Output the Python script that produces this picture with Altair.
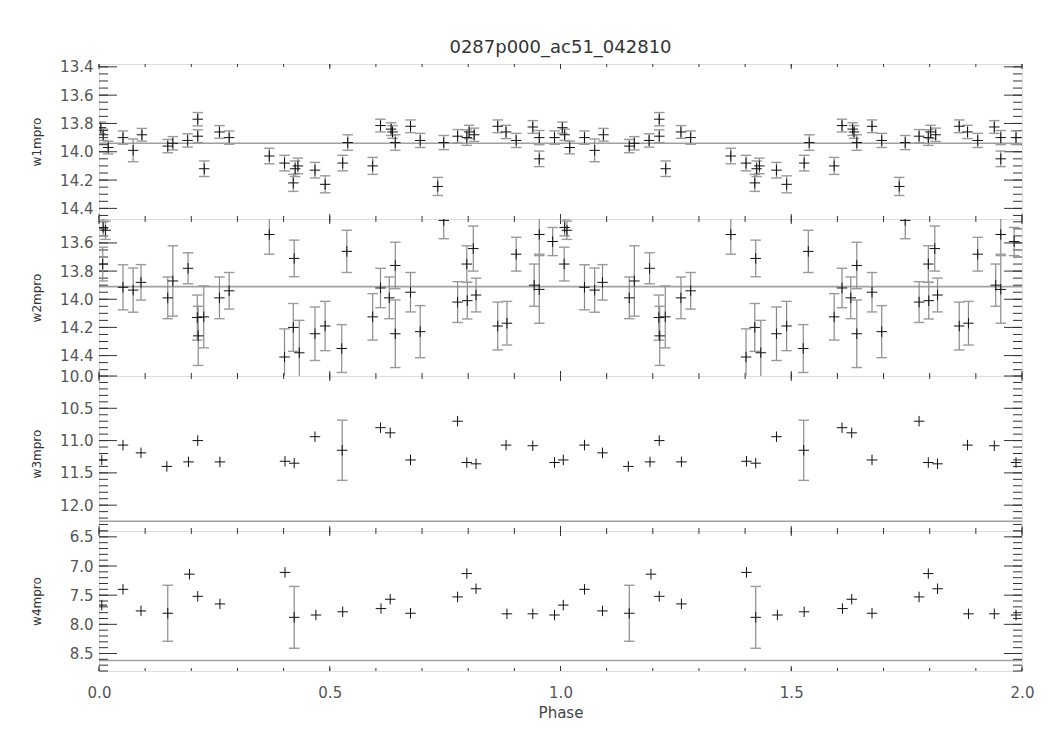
import altair as alt
import pandas as pd
import numpy as np

TITLE = "0287p000_ac51_042810"

# ---------------- data (phase within one cycle; drawn twice: 0-1 and 1-2) ----------------
w1_phase = [0.004, 0.009, 0.020, 0.052, 0.074, 0.093, 0.149, 0.160, 0.192, 0.214, 0.214, 0.228,
            0.261, 0.282, 0.369, 0.402, 0.421, 0.425, 0.431, 0.468, 0.490, 0.528, 0.539, 0.593,
            0.610, 0.633, 0.636, 0.642, 0.675, 0.696, 0.734, 0.747, 0.777, 0.797, 0.802, 0.813,
            0.864, 0.882, 0.904, 0.940, 0.954, 0.954, 0.987]
w1_mag = [13.83, 13.88, 13.97, 13.90, 13.99, 13.88, 13.96, 13.94, 13.92, 13.77, 13.89, 14.12,
          13.86, 13.90, 14.03, 14.08, 14.22, 14.12, 14.10, 14.13, 14.23, 14.08, 13.935, 14.10,
          13.815, 13.84, 13.86, 13.935, 13.82, 13.92, 14.245, 13.935, 13.89, 13.90, 13.86, 13.88,
          13.82, 13.86, 13.92, 13.825, 13.90, 14.05, 13.90]
w1_err = [0.04, 0.04, 0.045, 0.047, 0.08, 0.045, 0.047, 0.047, 0.047, 0.047, 0.045, 0.055,
          0.045, 0.047, 0.055, 0.055, 0.06, 0.055, 0.055, 0.055, 0.06, 0.055, 0.055, 0.06,
          0.045, 0.045, 0.045, 0.055, 0.045, 0.05, 0.064, 0.05, 0.047, 0.055, 0.047, 0.047,
          0.045, 0.047, 0.05, 0.045, 0.05, 0.055, 0.047]

w2_phase = [0.008, 0.009, 0.014, 0.052, 0.074, 0.091, 0.149, 0.160, 0.193, 0.213, 0.215, 0.227,
            0.261, 0.282, 0.369, 0.402, 0.421, 0.423, 0.434, 0.468, 0.490, 0.526, 0.537, 0.593,
            0.610, 0.629, 0.642, 0.642, 0.675, 0.696, 0.747, 0.777, 0.797, 0.798, 0.811, 0.817,
            0.864, 0.884, 0.904, 0.943, 0.954, 0.954, 0.983]
w2_mag = [13.75, 13.49, 13.51, 13.915, 13.935, 13.88, 13.99, 13.87, 13.78, 14.13, 14.26, 14.125,
          13.99, 13.94, 13.54, 14.41, 14.20, 13.71, 14.38, 14.245, 14.19, 14.35, 13.66, 14.125,
          13.92, 13.99, 13.76, 14.245, 13.95, 14.23, 13.44, 14.02, 13.75, 14.01, 13.64, 13.97,
          14.19, 14.17, 13.68, 13.90, 13.54, 13.93, 13.59]
w2_err = [0.12, 0.06, 0.065, 0.16, 0.157, 0.126, 0.148, 0.25, 0.11, 0.16, 0.21, 0.22,
          0.148, 0.13, 0.14, 0.20, 0.17, 0.13, 0.23, 0.19, 0.175, 0.17, 0.15, 0.165,
          0.14, 0.148, 0.165, 0.24, 0.14, 0.185, 0.13, 0.145, 0.13, 0.13, 0.16, 0.12,
          0.17, 0.155, 0.12, 0.15, 0.14, 0.24, 0.10]

w3_phase = [0.006, 0.052, 0.091, 0.147, 0.194, 0.214, 0.262, 0.403, 0.423, 0.468, 0.527, 0.610,
            0.631, 0.675, 0.777, 0.797, 0.817, 0.882, 0.940, 0.987]
w3_mag = [11.30, 11.07, 11.19, 11.40, 11.33, 11.00, 11.33, 11.32, 11.35, 10.94, 11.15, 10.80,
          10.88, 11.30, 10.70, 11.34, 11.36, 11.07, 11.08, 11.34]
w3_err = [0.0, 0.0, 0.0, 0.0, 0.0, 0.0, 0.0, 0.0, 0.0, 0.0, 0.466, 0.0,
          0.0, 0.0, 0.0, 0.0, 0.0, 0.0, 0.0, 0.0]

w4_phase = [0.006, 0.052, 0.091, 0.149, 0.196, 0.214, 0.262, 0.403, 0.423, 0.470, 0.528, 0.611,
            0.631, 0.675, 0.777, 0.797, 0.817, 0.884, 0.940, 0.987]
w4_mag = [7.67, 7.40, 7.77, 7.81, 7.14, 7.52, 7.65, 7.11, 7.88, 7.84, 7.785, 7.73,
          7.57, 7.81, 7.53, 7.13, 7.39, 7.82, 7.82, 7.84]
w4_err = [0.0, 0.0, 0.0, 0.48, 0.0, 0.0, 0.0, 0.0, 0.53, 0.0, 0.0, 0.0,
          0.0, 0.0, 0.0, 0.0, 0.0, 0.0, 0.0, 0.0]

medians = {"w1mpro": 13.94, "w2mpro": 13.91, "w3mpro": 12.25, "w4mpro": 8.62}
domains = {"w1mpro": [13.38, 14.475], "w2mpro": [13.43, 14.545],
           "w3mpro": [10.0, 12.4], "w4mpro": [6.4, 8.8]}
major_ticks = {"w1mpro": [13.4, 13.6, 13.8, 14.0, 14.2, 14.4],
               "w2mpro": [13.6, 13.8, 14.0, 14.2, 14.4],
               "w3mpro": [10.0, 10.5, 11.0, 11.5, 12.0],
               "w4mpro": [6.5, 7.0, 7.5, 8.0, 8.5]}
minor_step = {"w1mpro": 0.05, "w2mpro": 0.05, "w3mpro": 0.1, "w4mpro": 0.1}
x_labels = [0.0, 0.5, 1.0, 1.5, 2.0]

# ---------------- styling ----------------
W = 923
HEIGHTS = [155, 157, 155, 140]
FONT = "DejaVu Sans"
BAR = "#8a8a8a"
CAP = "#9a9a9a"
TICK = "#333333"
MED = "#a0a0a0"


def build_df(ph, mag, err):
    rows = []
    for shift in (0.0, 1.0):
        for p, m, e in zip(ph, mag, err):
            rows.append({"phase": p + shift, "mag": m, "lo": m - e, "hi": m + e, "err": e})
    return pd.DataFrame(rows)


def panel(label, ph, mag, err, height, bottom):
    df = build_df(ph, mag, err)
    ebdf = df[df["err"] > 0]
    dom = domains[label]
    xs = alt.Scale(domain=[0, 2], nice=False, zero=False)
    ys = alt.Scale(domain=dom, reverse=True, nice=False, zero=False)
    if bottom:
        xax = alt.Axis(values=x_labels, format=".1f", title="Phase", ticks=False, tickSize=0,
                       domain=False, grid=False, labelFlush=False, labelFontSize=15,
                       labelColor="#555555", labelPadding=14, labelFont=FONT,
                       titleFont=FONT, titleFontSize=15, titleFontWeight="normal",
                       titleColor="#444444", titlePadding=5)
    else:
        xax = None
    yax = alt.Axis(values=major_ticks[label], format=".1f", title=label, ticks=False, tickSize=0,
                   domain=False, grid=False, labelFontSize=15, labelColor="#555555",
                   labelFont=FONT, labelPadding=6, minExtent=40, maxExtent=40,
                   labelOverlap=False, titleFont=FONT, titleFontSize=12,
                   titleFontWeight="normal", titleColor="#333333", titlePadding=16)

    def X(f):
        return alt.X(f, type="quantitative", scale=xs, axis=xax)

    def Y(f):
        return alt.Y(f, type="quantitative", scale=ys, axis=yax)

    step = minor_step[label]
    minors = np.round(np.arange(np.ceil(dom[0] / step) * step, dom[1] + 1e-9, step), 3)
    tmaj = pd.DataFrame({"t": major_ticks[label]})
    tmin = pd.DataFrame({"t": minors})
    xmin_t = pd.DataFrame({"t": np.round(np.arange(0, 2.0001, 0.1), 2)})
    xmaj_t = pd.DataFrame({"t": x_labels})

    layers = []
    layers.append(alt.Chart(pd.DataFrame({"m": [medians[label]]}))
                  .mark_rule(color=MED, strokeWidth=1.6).encode(y=Y("m")))
    # inward y ticks, left and right
    for (d, ln) in ((tmaj, 18), (tmin, 9)):
        layers.append(alt.Chart(d).mark_rule(color=TICK, strokeWidth=1)
                      .encode(y=Y("t"), x=alt.value(0), x2=alt.value(ln)))
        layers.append(alt.Chart(d).mark_rule(color=TICK, strokeWidth=1)
                      .encode(y=Y("t"), x=alt.value(W - ln), x2=alt.value(W)))
    # inward x ticks, top and bottom
    for (d, ln) in ((xmin_t, 3), (xmaj_t, 5)):
        layers.append(alt.Chart(d).mark_rule(color=TICK, strokeWidth=1)
                      .encode(x=X("t"), y=alt.value(0), y2=alt.value(ln)))
        layers.append(alt.Chart(d).mark_rule(color=TICK, strokeWidth=1)
                      .encode(x=X("t"), y=alt.value(height - ln), y2=alt.value(height)))
    # error bars
    if len(ebdf):
        eb = alt.Chart(ebdf)
        layers.append(eb.mark_rule(color=BAR, strokeWidth=1.2, clip=True)
                      .encode(x=X("phase"), y=Y("lo"), y2="hi:Q"))
        for f in ("lo", "hi"):
            layers.append(eb.mark_point(shape="M-1,0L1,0", size=110, filled=False, color=CAP,
                                        strokeWidth=1.4, opacity=1, clip=True)
                          .encode(x=X("phase"), y=Y(f)))
    # plus markers
    layers.append(alt.Chart(df).mark_point(shape="M-1,0L1,0M0,-1L0,1", size=110, filled=False,
                                           color="#111111", strokeWidth=1, opacity=1, clip=True)
                  .encode(x=X("phase"), y=Y("mag")))
    return alt.layer(*layers).properties(width=W, height=height)


p1 = panel("w1mpro", w1_phase, w1_mag, w1_err, HEIGHTS[0], False)
p2 = panel("w2mpro", w2_phase, w2_mag, w2_err, HEIGHTS[1], False)
p3 = panel("w3mpro", w3_phase, w3_mag, w3_err, HEIGHTS[2], False)
p4 = panel("w4mpro", w4_phase, w4_mag, w4_err, HEIGHTS[3], True)

chart = (
    alt.vconcat(p1, p2, p3, p4, spacing=0, bounds="flush")
    .properties(
        title=alt.TitleParams(TITLE, fontSize=18, font=FONT, fontWeight="normal",
                              color="#333333", offset=2, anchor="middle", frame="group"),
        padding={"left": 21, "top": 31, "right": 5, "bottom": 5},
    )
    .configure_view(stroke="#222222", strokeWidth=1)
    .configure(font=FONT)
)

chart.save("out.html", embed_options={"renderer": "svg", "actions": False})
